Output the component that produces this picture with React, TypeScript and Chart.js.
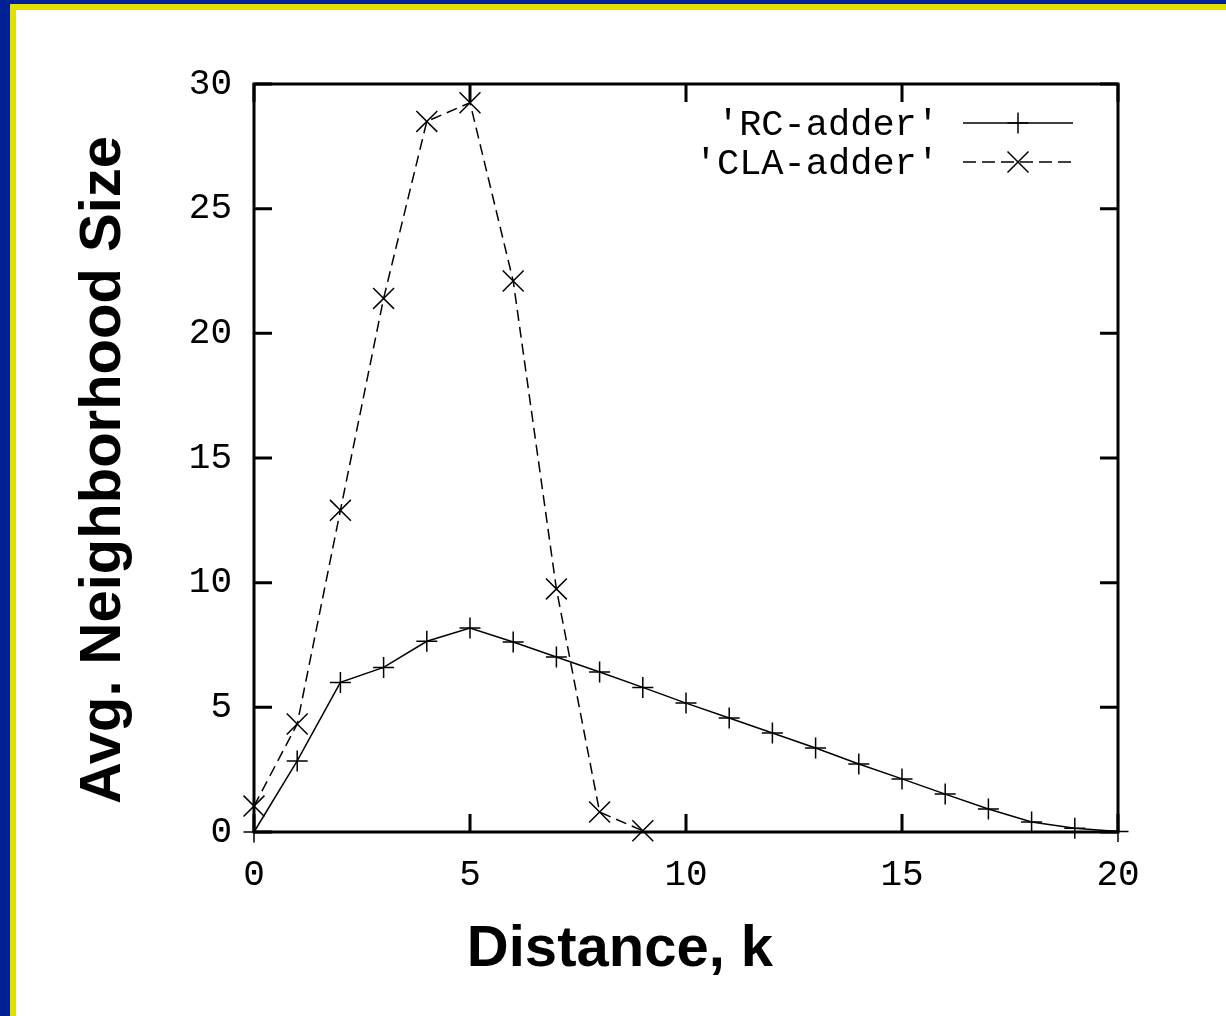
import React, { useEffect, useRef } from "react";
import { Chart, registerables } from "chart.js";

Chart.register(...registerables);

const rcDistance = [0, 1, 2, 3, 4, 5, 6, 7, 8, 9, 10, 11, 12, 13, 14, 15, 16, 17, 18, 19, 20];
const rcValues = [0, 2.85, 6.0, 6.6, 7.65, 8.18, 7.62, 7.02, 6.42, 5.8, 5.17, 4.57, 3.97, 3.37, 2.73, 2.13, 1.52, 0.92, 0.4, 0.15, 0.02];
const claDistance = [0, 1, 2, 3, 4, 5, 6, 7, 8, 9];
const claValues = [1.04, 4.33, 12.9, 21.4, 28.5, 29.25, 22.1, 9.75, 0.8, 0.05];

const xTicks = [0, 5, 10, 15, 20];
const yTicks = [0, 5, 10, 15, 20, 25, 30];
const seriesNames = ["'RC-adder'", "'CLA-adder'"];
const xTitle = "Distance, k";
const yTitle = "Avg. Neighborhood Size";

const CW = 1210;
const CH = 1006;
const DASH = [11, 6];

function drawPlus(ctx: CanvasRenderingContext2D, x: number, y: number, r: number) {
  ctx.beginPath();
  ctx.moveTo(x - r, y);
  ctx.lineTo(x + r, y);
  ctx.moveTo(x, y - r);
  ctx.lineTo(x, y + r);
  ctx.stroke();
}
function drawX(ctx: CanvasRenderingContext2D, x: number, y: number, r: number) {
  ctx.beginPath();
  ctx.moveTo(x - r, y - r);
  ctx.lineTo(x + r, y + r);
  ctx.moveTo(x - r, y + r);
  ctx.lineTo(x + r, y - r);
  ctx.stroke();
}

const framePlugin = {
  id: "gnuFrame",
  beforeDatasetsDraw(chart: any) {
    const { ctx, chartArea } = chart;
    const { left, right, top, bottom } = chartArea;
    const xs = chart.scales.x;
    const ys = chart.scales.y;
    ctx.save();
    ctx.strokeStyle = "#000";
    ctx.lineWidth = 3;
    ctx.setLineDash([]);
    ctx.strokeRect(left, top, right - left, bottom - top);
    const TL = 18;
    ctx.beginPath();
    xTicks.forEach((v) => {
      const px = xs.getPixelForValue(v);
      ctx.moveTo(px, bottom);
      ctx.lineTo(px, bottom - TL);
      ctx.moveTo(px, top);
      ctx.lineTo(px, top + TL);
    });
    yTicks.forEach((v) => {
      const py = ys.getPixelForValue(v);
      ctx.moveTo(left, py);
      ctx.lineTo(left + TL, py);
      ctx.moveTo(right, py);
      ctx.lineTo(right - TL, py);
    });
    ctx.stroke();
    ctx.restore();
  },
  afterDraw(chart: any) {
    const { ctx } = chart;
    ctx.save();
    ctx.fillStyle = "#000";
    ctx.strokeStyle = "#000";
    // legend
    ctx.font = '37px "Liberation Mono"';
    ctx.textAlign = "right";
    ctx.textBaseline = "middle";
    const rows = [113, 152];
    const tx = 923;
    const x0 = 947;
    const x1 = 1057;
    const xm = 1002;
    seriesNames.forEach((name, i) => {
      ctx.fillText(name, tx, rows[i] + 2);
      ctx.lineWidth = 1.5;
      ctx.setLineDash(i === 1 ? [13, 6] : []);
      ctx.beginPath();
      ctx.moveTo(x0, rows[i]);
      ctx.lineTo(x1, rows[i]);
      ctx.stroke();
      ctx.setLineDash([]);
      if (i === 0) drawPlus(ctx, xm, rows[i], 10.5);
      else drawX(ctx, xm, rows[i], 10.5);
    });
    // axis titles
    ctx.font = 'bold 58px "Liberation Sans"';
    ctx.textAlign = "center";
    ctx.textBaseline = "alphabetic";
    ctx.fillText(xTitle, 604, 956);
    ctx.translate(104, 460);
    ctx.rotate(-Math.PI / 2);
    ctx.fillText(yTitle, 0, 0);
    ctx.restore();
  },
};

export default function App() {
  const ref = useRef<HTMLCanvasElement | null>(null);
  useEffect(() => {
    const canvas = ref.current;
    if (!canvas) return;
    const chart = new Chart(canvas, {
      type: "line",
      data: {
        datasets: [
          {
            label: seriesNames[0],
            data: rcDistance.map((d, i) => ({ x: d, y: rcValues[i] })),
            borderColor: "#000",
            backgroundColor: "#000",
            borderWidth: 1.5,
            pointStyle: "cross",
            pointRadius: 10.5,
            pointBorderWidth: 1.5,
            pointBorderColor: "#000",
            pointHoverRadius: 10.5,
            tension: 0,
            clip: false as any,
          },
          {
            label: seriesNames[1],
            data: claDistance.map((d, i) => ({ x: d, y: claValues[i] })),
            borderColor: "#000",
            backgroundColor: "#000",
            borderWidth: 1.5,
            borderDash: DASH,
            pointStyle: "crossRot",
            pointRadius: 14.8,
            pointBorderWidth: 1.5,
            pointBorderColor: "#000",
            pointHoverRadius: 14.8,
            tension: 0,
            clip: false as any,
          },
        ],
      },
      options: {
        animation: false,
        responsive: false,
        devicePixelRatio: 1,
        events: [],
        layout: { padding: { top: 74, right: 108, left: 0, bottom: 0 } },
        plugins: { legend: { display: false }, tooltip: { enabled: false } },
        scales: {
          x: {
            type: "linear",
            min: 0,
            max: 20,
            afterFit: (s: any) => {
              s.height = 184;
            },
            afterBuildTicks: (s: any) => {
              s.ticks = xTicks.map((v) => ({ value: v }));
            },
            grid: { display: false, drawTicks: false },
            border: { display: false },
            ticks: {
              padding: 22,
              color: "#000",
              font: { family: '"Liberation Mono"', size: 36 },
              maxRotation: 0,
            },
          },
          y: {
            type: "linear",
            min: 0,
            max: 30,
            afterFit: (s: any) => {
              s.width = 238;
            },
            afterBuildTicks: (s: any) => {
              s.ticks = yTicks.map((v) => ({ value: v }));
            },
            grid: { display: false, drawTicks: false },
            border: { display: false },
            ticks: {
              padding: 22,
              color: "#000",
              font: { family: '"Liberation Mono"', size: 36 },
            },
          },
        },
      },
      plugins: [framePlugin],
    });
    return () => chart.destroy();
  }, []);

  return (
    <div
      style={{
        position: "fixed",
        left: 0,
        top: 0,
        width: 1226,
        height: 1016,
        background: "rgb(0,32,150)",
        boxSizing: "border-box",
        paddingLeft: 10,
        paddingTop: 4,
      }}
    >
      <div
        style={{
          width: "100%",
          height: "100%",
          background: "rgb(224,224,0)",
          boxSizing: "border-box",
          paddingLeft: 6,
          paddingTop: 6,
        }}
      >
        <div style={{ width: CW, height: CH, background: "#fff" }}>
          <canvas ref={ref} width={CW} height={CH} style={{ display: "block", width: CW, height: CH }} />
        </div>
      </div>
    </div>
  );
}
